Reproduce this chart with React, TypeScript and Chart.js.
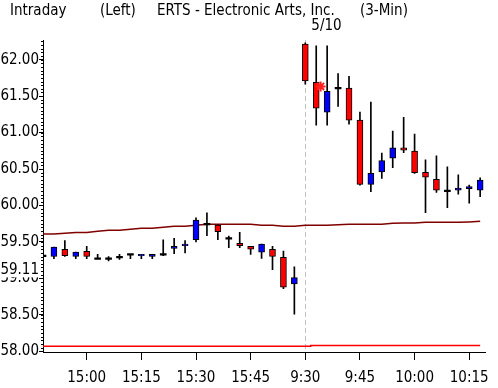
import React, { useEffect, useRef } from 'react';
import { Chart, registerables } from 'chart.js';

Chart.register(...registerables);

// ---- data ----
const times = [
  '14:48', '14:51', '14:54', '14:57',
  '15:00', '15:03', '15:06', '15:09', '15:12', '15:15', '15:18', '15:21', '15:24', '15:27',
  '15:30', '15:33', '15:36', '15:39', '15:42', '15:45', '15:48', '15:51', '15:54', '15:57',
  '9:30', '9:33', '9:36', '9:39', '9:42', '9:45', '9:48', '9:51', '9:54', '9:57',
  '10:00', '10:03', '10:06', '10:09', '10:12', '10:15', '10:18',
];
const tickTimes = ['15:00', '15:15', '15:30', '15:45', '9:30', '9:45', '10:00', '10:15'];

const opens = [
  59.31, 59.30, 59.40, 59.30, 59.37, 59.27, 59.27, 59.29, 59.33, 59.31,
  59.30, 59.33, 59.41, 59.45, 59.53, 59.745, 59.73, 59.55, 59.48, 59.44,
  59.36, 59.40, 59.29, 58.925,
  62.215, 61.69, 61.28, 61.61, 61.61, 61.17, 60.29, 60.46, 60.65, 60.79,
  60.745, 60.455, 60.36, 60.20, 60.21, 60.23, 60.21,
];
const highs = [
  59.32, 59.43, 59.52, 59.36, 59.44, 59.33, 59.30, 59.33, 59.33, 59.33,
  59.33, 59.53, 59.55, 59.52, 59.83, 59.90, 59.74, 59.58, 59.63, 59.44,
  59.47, 59.44, 59.375, 59.16,
  62.23, 62.19, 62.19, 61.81, 61.77, 61.28, 61.42, 60.72, 61.02, 61.21,
  60.98, 60.625, 60.68, 60.53, 60.42, 60.28, 60.38,
];
const lows = [
  59.29, 59.27, 59.30, 59.27, 59.27, 59.27, 59.24, 59.26, 59.27, 59.27,
  59.27, 59.31, 59.34, 59.35, 59.50, 59.585, 59.53, 59.42, 59.42, 59.33,
  59.275, 59.12, 58.86, 58.51,
  61.665, 61.10, 61.10, 61.36, 61.115, 60.28, 60.19, 60.37, 60.52, 60.725,
  60.44, 59.90, 60.18, 59.97, 60.155, 60.03, 60.12,
];
const closes = [
  59.31, 59.43, 59.31, 59.36, 59.30, 59.27, 59.27, 59.29, 59.33, 59.33,
  59.33, 59.33, 59.44, 59.47, 59.80, 59.745, 59.64, 59.55, 59.45, 59.40,
  59.47, 59.30, 58.88, 59.01,
  61.71, 61.335, 61.565, 61.61, 61.17, 60.29, 60.44, 60.615, 60.79, 60.76,
  60.45, 60.39, 60.21, 60.20, 60.24, 60.26, 60.35,
];
const avgLine = [
  59.608, 59.608, 59.618, 59.63, 59.63, 59.645, 59.66, 59.66, 59.673, 59.687,
  59.687, 59.70, 59.714, 59.714, 59.728, 59.742, 59.742, 59.742, 59.742, 59.742,
  59.728, 59.728, 59.714, 59.714,
  59.728, 59.728, 59.728, 59.735, 59.742, 59.742, 59.742, 59.742, 59.755, 59.76,
  59.76, 59.77, 59.77, 59.77, 59.77, 59.775, 59.783,
];
const lowerLine = [
  58.069, 58.069, 58.069, 58.069, 58.069, 58.069, 58.069, 58.069, 58.069, 58.069,
  58.069, 58.069, 58.069, 58.069, 58.069, 58.069, 58.069, 58.069, 58.069, 58.069,
  58.069, 58.069, 58.069, 58.069,
  58.069, 58.078, 58.078, 58.078, 58.078, 58.078, 58.078, 58.078, 58.078, 58.078,
  58.078, 58.078, 58.078, 58.078, 58.078, 58.078, 58.078,
];
const markerPoint = { x: 25.4, y: 61.633 };
const prevClose = 59.11;
const yTickValues = [58.0, 58.5, 59.0, 59.5, 60.0, 60.5, 61.0, 61.5, 62.0];
const yMin = 57.99;
const yMax = 62.27;
const sessionLabel = '5/10';
const titleParts = ['Intraday', '(Left)', 'ERTS - Electronic Arts, Inc.', '(3-Min)'];

// ---- styling ----
const FONT = "'DejaVu Sans Condensed', 'DejaVu Sans', sans-serif";
const UP = '#0000ff';
const DOWN = '#ff0000';

const overlayPlugin = {
  id: 'overlay',
  beforeDatasetsDraw(chart: any) {
    const { ctx, chartArea, scales } = chart;
    const px = Math.round(scales.x.getPixelForValue(times.indexOf('9:30'))) + 0.5;
    ctx.save();
    ctx.strokeStyle = '#c0c0c0';
    ctx.lineWidth = 1;
    ctx.setLineDash([5, 3]);
    ctx.beginPath();
    ctx.moveTo(px, chartArea.top);
    ctx.lineTo(px, chartArea.bottom);
    ctx.stroke();
    ctx.restore();
  },
  afterDraw(chart: any) {
    const { ctx, chartArea, scales } = chart;
    const y = scales.y;
    ctx.save();
    // minor ticks
    ctx.strokeStyle = '#000';
    ctx.lineWidth = 1;
    ctx.beginPath();
    for (let k = 0; k <= 85; k++) {
      const v = 58 + k * 0.05;
      const py = Math.round(y.getPixelForValue(v)) + 0.5;
      ctx.moveTo(chartArea.left - 2, py);
      ctx.lineTo(chartArea.left, py);
    }
    ctx.stroke();
    // previous close label
    const pc = y.getPixelForValue(prevClose);
    ctx.fillStyle = '#fff';
    ctx.fillRect(0, pc - 7, chartArea.left - 3, 14);
    ctx.fillStyle = '#000';
    ctx.font = `15px ${FONT}`;
    ctx.textAlign = 'right';
    ctx.textBaseline = 'middle';
    ctx.fillText(prevClose.toFixed(2), chartArea.left - 4, pc);
    // title
    ctx.textAlign = 'left';
    const xs = [10, 100, 157, 360];
    titleParts.forEach((t, i) => ctx.fillText(t, xs[i], 11));
    const sx = scales.x.getPixelForValue(times.indexOf('9:30'));
    ctx.fillText(sessionLabel, sx + 6, 26);
    ctx.restore();
  },
};

export default function App() {
  const ref = useRef<HTMLCanvasElement>(null);
  useEffect(() => {
    if (!ref.current) return;
    const idx = times.map((_, i) => i);
    const wicks = idx.map((i) => ({ x: i, y: [lows[i], highs[i]] }));
    const bodies = idx.map((i) => {
      const o = opens[i];
      const c = closes[i];
      if (o === c) return { x: i, y: [o - 0.011, o + 0.011] };
      return { x: i, y: [Math.min(o, c), Math.max(o, c)] };
    });
    const bodyColors = idx.map((i) =>
      closes[i] > opens[i] ? UP : closes[i] < opens[i] ? DOWN : '#000'
    );
    const bodyBorders = idx.map((i) => (closes[i] === opens[i] ? 0 : 1));
    const tickIdx = tickTimes.map((t) => times.indexOf(t));

    const chart = new Chart(ref.current, {
      type: 'bar',
      data: {
        datasets: [
          {
            type: 'line',
            data: idx.map((i) => ({ x: i, y: avgLine[i] })),
            borderColor: '#800000',
            borderWidth: 1.5,
            pointRadius: 0,
            order: 3,
          } as any,
          {
            type: 'line',
            data: idx.map((i) => ({ x: i, y: lowerLine[i] })),
            borderColor: '#ff0000',
            borderWidth: 1.5,
            pointRadius: 0,
            stepped: 'middle',
            order: 3,
          } as any,
          {
            type: 'bar',
            data: wicks,
            backgroundColor: '#000',
            barThickness: 1,
            grouped: false,
            order: 2,
          } as any,
          {
            type: 'bar',
            data: bodies,
            backgroundColor: bodyColors,
            borderColor: '#000',
            borderWidth: bodyBorders,
            borderSkipped: false,
            barThickness: 6,
            grouped: false,
            order: 1,
          } as any,
          {
            type: 'line',
            data: [markerPoint],
            showLine: false,
            pointStyle: 'star',
            pointRadius: 5,
            borderColor: '#ff2020',
            borderWidth: 2,
            order: 0,
          } as any,
        ],
      },
      options: {
        animation: false,
        responsive: false,
        devicePixelRatio: 1,
        layout: { padding: { top: 40, right: 9, left: 0, bottom: 0 } },
        plugins: { legend: { display: false }, tooltip: { enabled: false } },
        scales: {
          x: {
            type: 'linear',
            min: 0,
            max: 40.5,
            offset: false,
            grid: { drawOnChartArea: false, tickLength: 8, color: '#000', offset: false },
            border: { color: '#000', width: 1 },
            afterBuildTicks: (s: any) => {
              s.ticks = tickIdx.map((v) => ({ value: v }));
            },
            afterFit: (s: any) => {
              s.height = 36;
            },
            ticks: {
              autoSkip: false,
              maxRotation: 0,
              padding: 9,
              color: '#000',
              font: { family: FONT, size: 15 },
              callback: (v: any) => times[Math.round(v)],
            },
          },
          y: {
            type: 'linear',
            min: yMin,
            max: yMax,
            grid: { drawOnChartArea: false, tickLength: 4, color: '#000' },
            border: { color: '#000', width: 1 },
            afterBuildTicks: (s: any) => {
              s.ticks = yTickValues.map((v) => ({ value: v }));
            },
            afterFit: (s: any) => {
              s.width = 43;
            },
            ticks: {
              padding: 0,
              color: '#000',
              font: { family: FONT, size: 15 },
              callback: (v: any) => Number(v).toFixed(2),
            },
          },
        },
      } as any,
      plugins: [overlayPlugin],
    });
    return () => chart.destroy();
  }, []);

  return (
    <div style={{ position: 'fixed', left: 0, top: 0, width: 498, height: 388, background: '#fff' }}>
      <canvas ref={ref} width={498} height={388} style={{ display: 'block' }} />
    </div>
  );
}
